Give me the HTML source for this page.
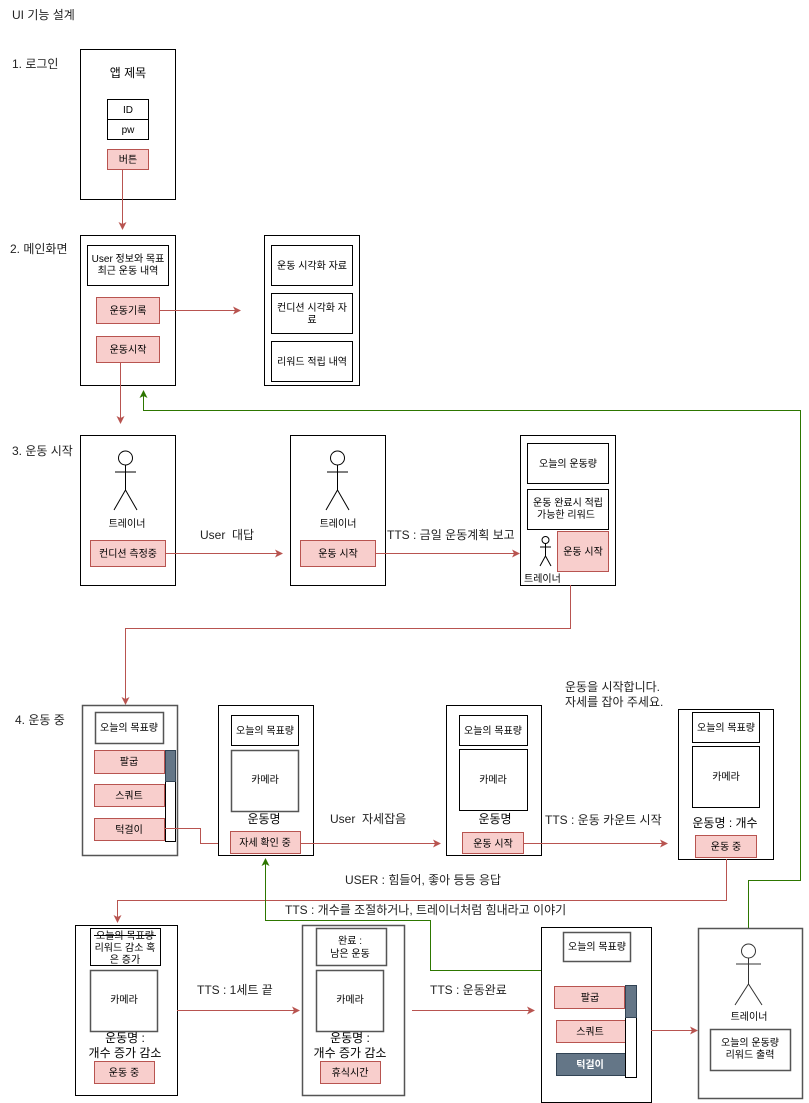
<!DOCTYPE html>
<html><head><meta charset="utf-8"><style>
html,body{margin:0;padding:0;background:#fff;}
svg{display:block;font-family:"Liberation Sans","Noto Sans CJK KR",sans-serif;}
.b{fill:#fff;stroke:#000;stroke-width:1}
.g{fill:#fff;stroke:#555;stroke-width:1.5}
.p{fill:#f8cecc;stroke:#b85450;stroke-width:1}
.d{fill:#647687;stroke:#314354;stroke-width:1}
.r{fill:none;stroke:#b85450;stroke-width:1}
.gr{fill:none;stroke:#2d7600;stroke-width:1}
text{font-size:10px;fill:#000}
.l{font-size:12px;fill:#222}
.s{fill:none;stroke:#000;stroke-width:1}
</style></head><body>
<svg width="809" height="1103" viewBox="0 0 809 1103" xmlns="http://www.w3.org/2000/svg">
<defs>
<marker id="ar" markerWidth="8" markerHeight="8" refX="7" refY="4" orient="auto" markerUnits="userSpaceOnUse"><path d="M0,0 L8,4 L0,8 L2,4 z" fill="#b85450"/></marker>
<marker id="ag" markerWidth="8" markerHeight="8" refX="7" refY="4" orient="auto" markerUnits="userSpaceOnUse"><path d="M0,0 L8,4 L0,8 L2,4 z" fill="#2d7600"/></marker>
</defs>

<text x="12" y="19" class="l">UI 기능 설계</text>

<!-- 1 login -->
<text x="12" y="68" class="l">1. 로그인</text>
<rect x="80.5" y="49.5" width="95" height="150" class="b"/>
<text x="128" y="77" text-anchor="middle" style="font-size:12px">앱 제목</text>
<rect x="107.5" y="99.5" width="41" height="20" class="b"/>
<text x="128" y="113" text-anchor="middle">ID</text>
<rect x="107.5" y="119.5" width="41" height="20" class="b"/>
<text x="128" y="133" text-anchor="middle">pw</text>
<rect x="107.5" y="149.5" width="41" height="20" class="p"/>
<text x="128" y="163" text-anchor="middle">버튼</text>
<path d="M122.5,169 V229" class="r" marker-end="url(#ar)"/>

<!-- 2 main -->
<text x="10" y="253" class="l">2. 메인화면</text>
<rect x="80.5" y="235.5" width="95" height="150" class="b"/>
<rect x="87.5" y="245.5" width="81" height="40" class="b"/>
<text x="128" y="262" text-anchor="middle">User 정보와 목표</text>
<text x="128" y="274" text-anchor="middle">최근 운동 내역</text>
<rect x="96.5" y="297.5" width="63" height="26" class="p"/>
<text x="128" y="314" text-anchor="middle">운동기록</text>
<rect x="96.5" y="336.5" width="63" height="26" class="p"/>
<text x="128" y="353" text-anchor="middle">운동시작</text>
<path d="M159,310.5 H240" class="r" marker-end="url(#ar)"/>
<rect x="264.5" y="235.5" width="95" height="150" class="b"/>
<rect x="271.5" y="245.5" width="81" height="40" class="b"/>
<text x="312" y="269" text-anchor="middle">운동 시각화 자료</text>
<rect x="271.5" y="293.5" width="81" height="40" class="b"/>
<text x="312" y="311" text-anchor="middle">컨디션 시각화 자</text>
<text x="312" y="323" text-anchor="middle">료</text>
<rect x="271.5" y="341.5" width="81" height="40" class="b"/>
<text x="312" y="365" text-anchor="middle">리워드 적립 내역</text>
<path d="M120.5,362 V423" class="r" marker-end="url(#ar)"/>

<!-- green long -->
<path d="M748.5,928 V880.5 H800.5 V410.5 H143.5 V391" class="gr" marker-end="url(#ag)"/>

<!-- 3 start -->
<text x="12" y="455" class="l">3. 운동 시작</text>
<rect x="80.5" y="435.5" width="95" height="150" class="b"/>
<g class="s"><circle cx="125.5" cy="458" r="7"/><path d="M125.5,465 V490 M115,472 H136 M125.5,490 L114,510 M125.5,490 L137,510"/></g>
<text x="127" y="527" text-anchor="middle">트레이너</text>
<rect x="90.5" y="540.5" width="75" height="26" class="p"/>
<text x="128" y="557" text-anchor="middle">컨디션 측정중</text>
<path d="M165,553.5 H282" class="r" marker-end="url(#ar)"/>
<text x="200" y="539" class="l">User&#160;&#160;대답</text>

<rect x="290.5" y="435.5" width="95" height="150" class="b"/>
<g class="s"><circle cx="337.5" cy="458" r="7"/><path d="M337.5,465 V490 M327,472 H348 M337.5,490 L326,510 M337.5,490 L349,510"/></g>
<text x="338" y="527" text-anchor="middle">트레이너</text>
<rect x="300.5" y="540.5" width="75" height="26" class="p"/>
<text x="338" y="557" text-anchor="middle">운동 시작</text>
<path d="M375,553.5 H519" class="r" marker-end="url(#ar)"/>
<text x="387" y="539" class="l">TTS : 금일 운동계획 보고</text>

<rect x="520.5" y="435.5" width="95" height="150" class="b"/>
<rect x="527.5" y="443.5" width="81" height="40" class="b"/>
<text x="568" y="467" text-anchor="middle">오늘의 운동량</text>
<rect x="527.5" y="489.5" width="81" height="40" class="b"/>
<text x="568" y="506" text-anchor="middle">운동 완료시 적립</text>
<text x="566" y="518" text-anchor="middle">가능한 리워드</text>
<g class="s"><circle cx="545.5" cy="540" r="3.5"/><path d="M545.5,543.5 V556 M540,547 H551 M545.5,556 L540,566 M545.5,556 L551,566"/></g>
<rect x="557.5" y="531.5" width="51" height="40" class="p"/>
<text x="583" y="555" text-anchor="middle">운동 시작</text>
<text x="524" y="582">트레이너</text>
<path d="M570.5,585 V628.5 H125.5 V704" class="r" marker-end="url(#ar)"/>

<!-- 4 exercising -->
<text x="15" y="724" class="l">4. 운동 중</text>
<rect x="82.5" y="705.5" width="95" height="150" class="g"/>
<rect x="95.5" y="712.5" width="68" height="31" class="g"/>
<text x="129" y="731" text-anchor="middle">오늘의 목표량</text>
<rect x="94.5" y="750.5" width="70" height="23" class="p"/>
<text x="129" y="765" text-anchor="middle">팔굽</text>
<rect x="94.5" y="784.5" width="70" height="22" class="p"/>
<text x="129" y="799" text-anchor="middle">스쿼트</text>
<rect x="94.5" y="818.5" width="70" height="22" class="p"/>
<text x="129" y="833" text-anchor="middle">턱걸이</text>
<rect x="165.5" y="750.5" width="10" height="91" class="b"/>
<rect x="165.5" y="750.5" width="10" height="31" class="d"/>
<path d="M164,828.5 H200.5 V843.5 H228" class="r" marker-end="url(#ar)"/>

<rect x="218.5" y="705.5" width="95" height="150" class="b"/>
<rect x="231.5" y="715.5" width="67" height="30" class="b"/>
<text x="265" y="734" text-anchor="middle">오늘의 목표량</text>
<rect x="231.5" y="750.5" width="67" height="61" class="g"/>
<text x="265" y="783" text-anchor="middle">카메라</text>
<text x="264" y="823" text-anchor="middle" style="font-size:12px">운동명</text>
<rect x="230.5" y="831.5" width="70" height="22" class="p"/>
<text x="265" y="846" text-anchor="middle">자세 확인 중</text>
<path d="M300,843.5 H440" class="r" marker-end="url(#ar)"/>
<text x="330" y="823" class="l">User&#160;&#160;자세잡음</text>

<rect x="446.5" y="705.5" width="95" height="150" class="b"/>
<rect x="459.5" y="715.5" width="68" height="30" class="b"/>
<text x="493" y="734" text-anchor="middle">오늘의 목표량</text>
<rect x="459.5" y="749.5" width="68" height="61" class="b"/>
<text x="493" y="783" text-anchor="middle">카메라</text>
<text x="495" y="823" text-anchor="middle" style="font-size:12px">운동명</text>
<rect x="462.5" y="832.5" width="61" height="21" class="p"/>
<text x="493" y="847" text-anchor="middle">운동 시작</text>
<path d="M523,843.5 H667" class="r" marker-end="url(#ar)"/>
<text x="545" y="824" class="l">TTS : 운동 카운트 시작</text>
<text x="565" y="691" class="l">운동을 시작합니다.</text>
<text x="565" y="706" class="l">자세를 잡아 주세요.</text>

<rect x="678.5" y="709.5" width="95" height="150" class="b"/>
<rect x="692.5" y="712.5" width="67" height="30" class="b"/>
<text x="726" y="731" text-anchor="middle">오늘의 목표량</text>
<rect x="692.5" y="746.5" width="67" height="61" class="b"/>
<text x="726" y="780" text-anchor="middle">카메라</text>
<text x="725" y="827" text-anchor="middle" style="font-size:12px">운동명 : 개수</text>
<rect x="695.5" y="835.5" width="61" height="22" class="p"/>
<text x="726" y="850" text-anchor="middle">운동 중</text>
<path d="M726.5,859 V900.5 H117.5 V922" class="r" marker-end="url(#ar)"/>
<text x="345" y="884" class="l">USER : 힘들어, 좋아 등등 응답</text>

<path d="M590.5,987 V970.5 H430.5 V920.5 H265.5 V859" class="gr" marker-end="url(#ag)"/>
<text x="285" y="914" class="l">TTS : 개수를 조절하거나, 트레이너처럼 힘내라고 이야기</text>

<!-- bottom row -->
<rect x="75.5" y="925.5" width="102" height="170" class="b"/>
<rect x="90.5" y="928.5" width="70" height="37" class="b"/>
<text x="125" y="939" text-anchor="middle">오늘의 목표량</text>
<path d="M94,935.5 H156" stroke="#000" stroke-width="1"/>
<text x="125" y="951" text-anchor="middle">리워드 감소 혹</text>
<text x="125" y="963" text-anchor="middle">은 증가</text>
<rect x="90.5" y="970.5" width="67" height="61" class="g"/>
<text x="124" y="1003" text-anchor="middle">카메라</text>
<text x="125" y="1042" text-anchor="middle" style="font-size:12px">운동명 :</text>
<text x="125" y="1057" text-anchor="middle" style="font-size:12px">개수 증가 감소</text>
<rect x="94.5" y="1061.5" width="60" height="22" class="p"/>
<text x="124" y="1076" text-anchor="middle">운동 중</text>
<path d="M177,1010.5 H299" class="r" marker-end="url(#ar)"/>
<text x="197" y="994" class="l">TTS : 1세트 끝</text>

<rect x="302.5" y="925.5" width="102" height="170" class="g"/>
<rect x="316.5" y="928.5" width="70" height="37" class="g"/>
<text x="350" y="944" text-anchor="middle">완료 :</text>
<text x="350" y="957" text-anchor="middle">남은 운동</text>
<rect x="316.5" y="970.5" width="67" height="61" class="g"/>
<text x="350" y="1003" text-anchor="middle">카메라</text>
<text x="350" y="1042" text-anchor="middle" style="font-size:12px">운동명 :</text>
<text x="350" y="1057" text-anchor="middle" style="font-size:12px">개수 증가 감소</text>
<rect x="320.5" y="1061.5" width="60" height="22" class="p"/>
<text x="350" y="1076" text-anchor="middle">휴식시간</text>
<path d="M412,1010.5 H534" class="r" marker-end="url(#ar)"/>
<text x="430" y="994" class="l">TTS : 운동완료</text>

<rect x="541.5" y="927.5" width="110" height="175" class="b"/>
<rect x="563.5" y="932.5" width="67" height="29" class="g"/>
<text x="597" y="950" text-anchor="middle">오늘의 목표량</text>
<rect x="554.5" y="986.5" width="70" height="22" class="p"/>
<text x="590" y="1001" text-anchor="middle">팔굽</text>
<rect x="556.5" y="1020.5" width="69" height="22" class="p"/>
<text x="590" y="1035" text-anchor="middle">스쿼트</text>
<rect x="556.5" y="1053.5" width="69" height="22" class="d"/>
<text x="590" y="1068" text-anchor="middle" style="fill:#fff;font-weight:bold">턱걸이</text>
<rect x="625.5" y="985.5" width="11" height="92" class="b"/>
<rect x="625.5" y="985.5" width="11" height="32" class="d"/>
<path d="M651,1030.5 H697" class="r" marker-end="url(#ar)"/>

<rect x="698.5" y="928.5" width="104" height="170" class="g"/>
<g style="fill:none;stroke:#333;stroke-width:1"><circle cx="748.5" cy="951" r="7"/><path d="M748.5,958 V984 M736,964 H761 M748.5,984 L735,1005 M748.5,984 L762,1005"/></g>
<text x="749" y="1020" text-anchor="middle">트레이너</text>
<rect x="710.5" y="1029.5" width="80" height="41" class="g"/>
<text x="750" y="1046" text-anchor="middle">오늘의 운동량</text>
<text x="750" y="1058" text-anchor="middle">리워드 출력</text>
</svg>
</body></html>
